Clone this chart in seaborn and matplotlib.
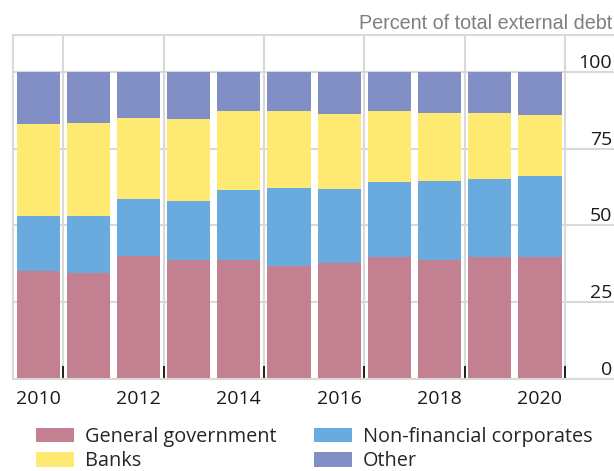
import numpy as np
import seaborn as sns
import matplotlib.pyplot as plt

# Shares of total external debt by sector (percent)
years = [str(y) for y in range(2010, 2021)]
gen_gov = [35.2, 34.5, 40.1, 38.8, 38.8, 36.8, 37.8, 39.7, 38.8, 39.7, 39.7]
non_fin = [17.9, 18.6, 18.5, 19.2, 22.8, 25.4, 24.1, 24.5, 25.7, 25.4, 26.4]
banks = [29.9, 30.3, 26.4, 26.7, 25.7, 25.1, 24.4, 23.1, 22.1, 21.5, 19.9]
other = [17.0, 16.6, 15.0, 15.3, 12.7, 12.7, 13.7, 12.7, 13.4, 13.4, 14.0]
x_labels = ['2010', '', '2012', '', '2014', '', '2016', '', '2018', '', '2020']
y_ticks = [0, 25, 50, 75, 100]

colors = {'General government': '#c28090', 'Non-financial corporates': '#6aabdf',
          'Banks': '#fee972', 'Other': '#818fc6'}
grid_col = '#d9d9d9'

sns.set_theme(style='white')
plt.rcParams['font.family'] = ['Open Sans', 'DejaVu Sans']

fig = plt.figure(figsize=(6.14, 4.71), dpi=100)
ax = fig.add_axes([13 / 614, 1 - 379 / 471, 1 - 13 / 614, (379 - 35) / 471])

# Stacked bars: draw cumulative totals from the top layer down
layers = [('Other', other), ('Banks', banks), ('Non-financial corporates', non_fin),
          ('General government', gen_gov)]
stack = np.array([gen_gov, non_fin, banks, other])
for i, (name, vals) in enumerate(layers):
    tops = stack[:4 - i].sum(axis=0)
    sns.barplot(x=years, y=tops, color=colors[name], saturation=1, width=0.86,
                label=name, ax=ax, zorder=2, linewidth=0)

if ax.get_legend() is not None:
    ax.get_legend().remove()

ax.set_xlim(-0.5, 11.476)
ax.set_ylim(0, 112)
ax.set_xlabel('')
ax.set_ylabel('')

# x axis: labels every other year, short inward ticks between bar pairs
ax.set_xticks(range(len(years)))
ax.set_xticklabels(x_labels)
ax.set_xticks(np.arange(0.5, 11, 2), minor=True)
ax.tick_params(axis='x', which='major', length=0, pad=8, labelsize=14, colors='#1a1a1a')
ax.tick_params(axis='x', which='minor', bottom=True, direction='in', length=9.5,
               width=1.2, color='black')

# y axis: labels on the right, sitting above the gridlines
ax.yaxis.tick_right()
ax.set_yticks(y_ticks)
ax.tick_params(axis='y', length=0, pad=-1.5, labelsize=14, colors='#1a1a1a')
for t in ax.yaxis.get_major_ticks():
    t.label2.set_ha('right')
    t.label2.set_va('bottom')

ax.grid(which='major', axis='y', color=grid_col, lw=1.5)
ax.grid(which='minor', axis='x', color=grid_col, lw=1.5)
ax.set_axisbelow(True)
for side in ['left', 'top', 'bottom']:
    ax.spines[side].set_color(grid_col)
    ax.spines[side].set_linewidth(1.5)
ax.spines['right'].set_visible(False)

fig.text(612 / 614, 1 - 29 / 471, 'Percent of total external debt', ha='right',
         va='baseline', fontsize=14.2, color='#7f7f7f', family='Liberation Sans')

handles, labels = ax.get_legend_handles_labels()
order = ['General government', 'Banks', 'Non-financial corporates', 'Other']
handles = [handles[labels.index(n)] for n in order]
fig.legend(handles, order, ncol=2, frameon=False, fontsize=14.3,
           loc='upper left', bbox_to_anchor=(28 / 614, 1 - 419 / 471),
           handlelength=1.9, handleheight=0.75, handletextpad=0.55,
           columnspacing=1.9, labelspacing=0.22, borderaxespad=0)

fig.savefig('out.png', dpi=100)
